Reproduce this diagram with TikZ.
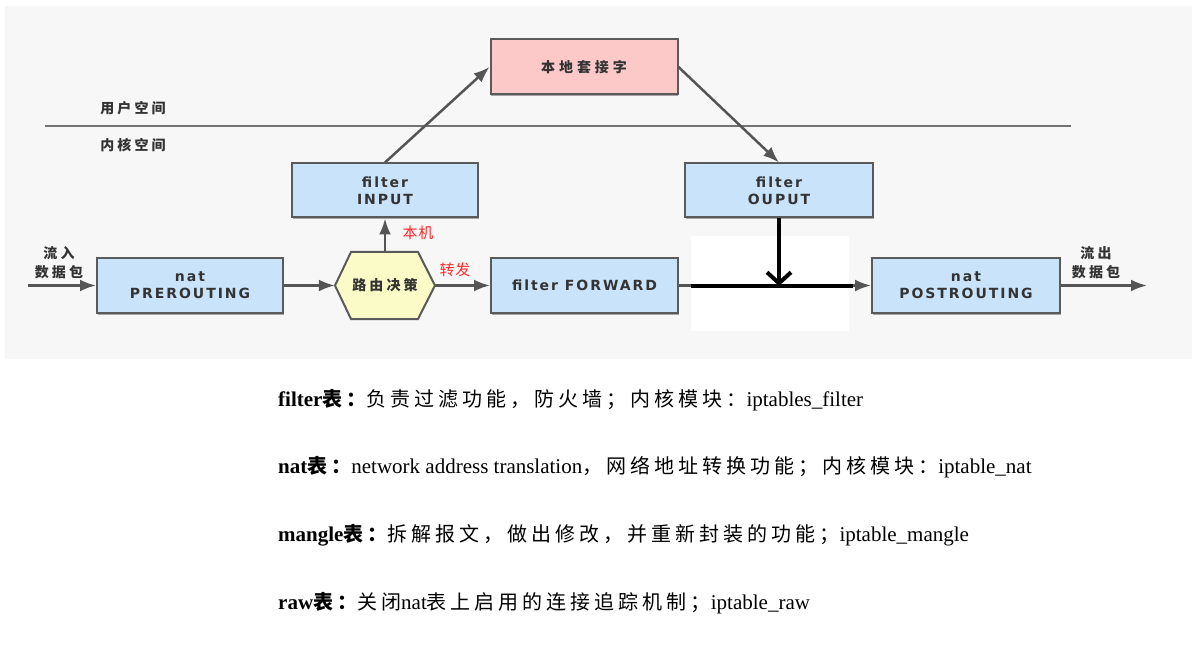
\documentclass[tikz,border=0pt]{standalone}
\usepackage{fontspec}
\setmainfont{Liberation Serif}
\newfontfamily\zhfont[LetterSpace=20]{Noto Sans CJK SC}
\newfontfamily\zhlbl[LetterSpace=22]{Noto Sans CJK SC}
\newfontfamily\zhwide[LetterSpace=28]{Noto Sans CJK SC}
\newfontfamily\zhred[LetterSpace=4]{Noto Sans CJK SC}
\newfontfamily\boxfnt[LetterSpace=14]{DejaVu Sans}
\usetikzlibrary{arrows.meta,calc,shadows}
\definecolor{bgpanel}{HTML}{F7F7F7}
\definecolor{boxblue}{HTML}{C9E3FA}
\definecolor{boxpink}{HTML}{FCC8C8}
\definecolor{hexyel}{HTML}{FBFBC8}
\definecolor{edgegray}{HTML}{5A5A5A}
\definecolor{ink}{HTML}{333333}
\definecolor{arrgray}{HTML}{555555}
\definecolor{sepgray}{HTML}{727272}
\definecolor{redlab}{HTML}{FF2A2A}
\newcommand{\zhtxt}{\zhfont\fontsize{20}{24}\selectfont}
\begin{document}
\begin{tikzpicture}[x=1pt,y=-1pt,
  chainbox/.style={draw=edgegray, line width=2pt, fill=boxblue, text=ink,
    font=\boxfnt\bfseries\fontsize{14}{17}\selectfont, align=center,
    minimum width=186pt, minimum height=54pt, inner sep=0pt,
    drop shadow={shadow xshift=0.8pt, shadow yshift=-2pt, fill=black!35, opacity=1}},
  flow/.style={draw=arrgray, line width=2.5pt, -{Latex[length=16pt,width=12pt]}},
  zone/.style={text=ink, font=\zhlbl\bfseries\fontsize{14}{19}\selectfont, align=center, inner sep=0pt},
  redlbl/.style={text=redlab, font=\zhred\fontsize{15}{18}\selectfont, inner sep=0pt},
  txtline/.style={anchor=west, inner sep=0pt, font=\fontsize{21}{25}\selectfont},
  sepline/.style={draw=sepgray, line width=2.5pt},
  overpen/.style={draw=black, line width=4pt}
]
\useasboundingbox (0,0) rectangle (1196,652);
\fill[white] (0,0) rectangle (1196,652);
\fill[bgpanel] (5,6) rectangle (1192,359);

% separator
\coordinate (sl) at (45,126);
\coordinate (sr) at (1071,126);
\draw[sepline] (sl) -- (sr);
\node[zone] (us) at (133,108) {用户空间};
\node[zone] (ks) at (133,145) {内核空间};

% boxes
\node[chainbox, fill=boxpink, minimum width=187pt, minimum height=55pt, font=\zhwide\bfseries\fontsize{14}{17}\selectfont] (sock) at (584,67) {本地套接字};
\node[chainbox] (inp) at (385,190.5) {filter\\INPUT};
\node[chainbox, minimum width=188pt] (outp) at (779,190.5) {filter\\OUPUT};
\node[chainbox] (pre) at (190,285.5) {nat\\PREROUTING};
\node[chainbox, minimum width=187pt] (fwd) at (584.5,285.5) {filter FORWARD};
\node[chainbox, minimum width=188pt] (post) at (966,285.5) {nat\\POSTROUTING};

% hexagon
\coordinate (rtc) at (385,285.5);
\filldraw[fill=hexyel, draw=edgegray, line width=2pt]
  ($(rtc)+(-50,0)$) -- ($(rtc)+(-34,-33.5)$) -- ($(rtc)+(33,-33.5)$) --
  ($(rtc)+(50,0)$) -- ($(rtc)+(33,33.5)$) -- ($(rtc)+(-34,33.5)$) -- cycle;
\node[text=ink, font=\zhlbl\bfseries\fontsize{14}{17}\selectfont, minimum width=100pt, minimum height=67pt, inner sep=0pt] (rt) at (rtc) {路由决策};

% in / out
\node[zone] (inl) at (59,262.5) {流入\\数据包};
\node[zone] (outl) at (1096,262.5) {流出\\数据包};
\coordinate (src) at (28,285.5);
\coordinate (dst) at (1147,285.5);
\draw[flow] (src) -- (pre.west);
\draw[flow] (post.east) -- (dst);

% flows
\draw[flow] (pre.east) -- (rt.west);
\draw[flow] (rt.east) -- (fwd.west);
\draw[flow] (rt.north) -- (inp.south);
\draw[flow] (inp.north) -- (sock.west);
\draw[flow] (sock.east) -- (outp.north);
\draw[flow] (fwd.east) -- (post.west);
\node[redlbl] (bj) at (418,233) {本机};
\node[redlbl] (zf) at (455,270) {转发};

% overlay
\fill[white] (691,236) rectangle (849,331);
\coordinate (bl) at (691,286);
\coordinate (br) at (853,286);
\draw[overpen] (bl) -- (br);
\draw[overpen, -{Straight Barb[length=11pt,width=24pt]}] (outp.south) -- (outp.south |- bl);

% explanations
\node[txtline] (l1) at (278,400) {\textbf{filter}{\zhtxt\bfseries 表：}{\zhtxt 负责过滤功能，防火墙；内核模块：}iptables\_filter};
\node[txtline] (l2) at (278,467) {\textbf{nat}{\zhtxt\bfseries 表：}network address translation{\zhtxt ，网络地址转换功能；内核模块：}iptable\_nat};
\node[txtline] (l3) at (278,535) {\textbf{mangle}{\zhtxt\bfseries 表：}{\zhtxt 拆解报文，做出修改，并重新封装的功能；}iptable\_mangle};
\node[txtline] (l4) at (278,603) {\textbf{raw}{\zhtxt\bfseries 表：}{\zhtxt 关闭}nat{\zhtxt 表上启用的连接追踪机制；}iptable\_raw};
\end{tikzpicture}
\end{document}
